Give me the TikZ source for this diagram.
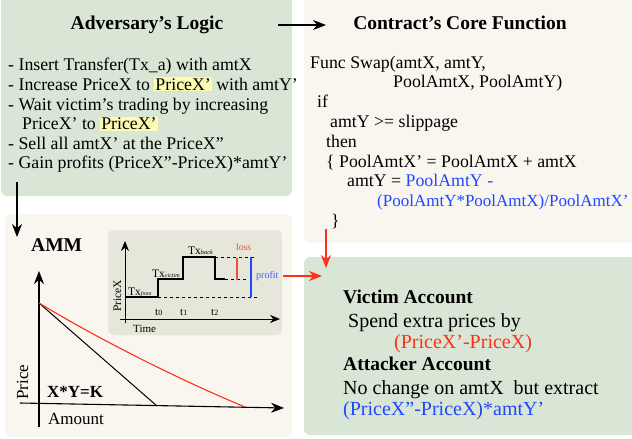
\documentclass[tikz,border=0pt]{standalone}
\usepackage{fontspec}
\setmainfont{Liberation Serif}
\usetikzlibrary{arrows.meta}

\definecolor{sage}{RGB}{217,230,213}
\definecolor{paper}{RGB}{248,246,238}
\definecolor{inset}{RGB}{231,230,218}
\definecolor{hlyellow}{RGB}{253,250,178}
\definecolor{hotred}{RGB}{255,48,24}
\definecolor{lossred}{RGB}{240,78,60}
\definecolor{codeblue}{RGB}{32,72,255}
\definecolor{profitblue}{RGB}{70,95,255}

\newcommand{\hlite}[1]{{\fboxsep=1pt\colorbox{hlyellow}{#1}}}

\begin{document}
\begin{tikzpicture}[x=1pt,y=-1pt,
    panel/.style={rounded corners=6pt},
    body/.style={anchor=base west,inner sep=0pt,font=\fontsize{17.8}{20}\selectfont},
    big/.style={anchor=base west,inner sep=0pt,font=\fontsize{20}{22}\selectfont},
    head/.style={anchor=base,inner sep=0pt,font=\fontsize{19.5}{22}\selectfont\bfseries},
    tiny/.style={anchor=base west,inner sep=0pt,font=\fontsize{11.5}{13}\selectfont},
    blk/.style={-{Stealth[length=13pt,width=10pt]},line width=1.1pt},
    hot/.style={blk,draw=hotred,fill=hotred},
    dash line/.style={dash pattern=on 3pt off 3pt,line width=1pt}]
    \useasboundingbox (0,0) rectangle (632,439);

    % panels
    \begin{scope}
        \clip (0,0) rectangle (632,439);
        \fill[sage,panel] (1,-10) rectangle (292,196);
        \fill[paper,panel] (304,-10) rectangle (645,243);
        \fill[paper,panel] (5,214) rectangle (292,437);
        \fill[inset,panel] (108,230) rectangle (282,335);
        \fill[sage,panel] (304,257) rectangle (645,435);
    \end{scope}

    % adversary's logic
    \node[head] (advtitle) at (147,29) {Adversary's Logic};
    \node[body] (adv1) at (8,70.5) {- Insert Transfer(Tx\_a) with amtX};
    \node[body] (adv2) at (8,90) {- Increase PriceX to \hlite{PriceX'} with amtY'};
    \node[body] (adv3) at (8,110) {- Wait victim's trading by increasing};
    \node[body] (adv4) at (22,129.5) {PriceX' to \hlite{PriceX'}};
    \node[body] (adv5) at (8,149) {- Sell all amtX' at the PriceX''};
    \node[body] (adv6) at (8,168.5) {- Gain profits (PriceX''-PriceX)*amtY'};

    % core function
    \node[head] (coretitle) at (460,29) {Contract's Core Function};
    \node[body] (code1) at (310,68) {Func Swap(amtX, amtY,};
    \node[body] (code2) at (393,87) {PoolAmtX, PoolAmtY)};
    \node[body] (code3) at (317,107) {if};
    \node[body] (code4) at (330,127) {amtY >= slippage};
    \node[body] (code5) at (326,147) {then};
    \node[body] (code6) at (326,167) {\{ PoolAmtX' = PoolAmtX + amtX};
    \node[body] (code7) at (347,186) {amtY = \textcolor{codeblue}{PoolAmtY -}};
    \node[body,text=codeblue,font=\fontsize{17}{20}\selectfont] (code8) at (377,206) {(PoolAmtY*PoolAmtX)/PoolAmtX'};
    \node[body] (code9) at (331,226) {\}};

    % AMM curve
    \node[head,anchor=base west] (amm) at (31,251) {AMM};
    \draw[blk] (39,427) -- (39,271);
    \draw[blk] (20,403) -- (284,408);
    \draw[line width=1pt] (39,303) -- (157,406);
    \draw[hotred,line width=1.1pt] (39,303) .. controls (100,340) and (180,380) .. (245,407);
    \node[anchor=base west,inner sep=0pt,rotate=90,font=\fontsize{17}{20}\selectfont] (price) at (28,400) {Price};
    \node[anchor=base west,inner sep=0pt,font=\fontsize{17}{20}\selectfont\bfseries] (kconst) at (47,397) {X*Y=K};
    \node[anchor=base west,inner sep=0pt,font=\fontsize{17}{20}\selectfont] (amount) at (48,424) {Amount};

    % price over time
    \draw[-{Stealth[length=10pt,width=8pt]},line width=1pt] (125,323) -- (125,241);
    \draw[-{Stealth[length=10pt,width=8pt]},line width=1pt] (120,319) -- (280,319);
    \draw[line width=1.2pt] (125,297) -- (158,297) -- (158,279) -- (183,279) -- (183,257)
        -- (215,257) -- (215,279) -- (225,279);
    \draw[dash line] (158,297) -- (257,297);
    \draw[dash line] (215,257) -- (256,257);
    \draw[dash line] (225,279) -- (247,279);
    \draw[lossred,line width=1.2pt] (237,258) -- (237,280);
    \draw[codeblue,line width=1.2pt] (251,257) -- (251,297);
    \node[tiny,rotate=90] (pricex) at (121,312) {PriceX};
    \node[tiny,font=\fontsize{11}{13}\selectfont] (time) at (133,332) {Time};
    \node[tiny] (front) at (128,295) {Tx{\fontsize{5.5}{6}\selectfont\itshape front}};
    \node[tiny] (victim) at (152,277) {Tx{\fontsize{6}{6}\selectfont\itshape victim}};
    \node[tiny] (back) at (188,254) {Tx{\fontsize{6.3}{6}\selectfont\itshape back}};
    \foreach \x/\n in {155/0,180/1,211/2} {
        \node[tiny,font=\fontsize{11}{13}\selectfont] (t\n) at (\x,315) {t{\fontsize{8}{9}\selectfont\n}};
    }
    \node[tiny,text=lossred,font=\fontsize{9.6}{11}\selectfont] (loss) at (236,250) {loss};
    \node[tiny,text=profitblue,font=\fontsize{10}{11}\selectfont] (profit) at (256,278) {profit};

    % accounts
    \node[big,font=\fontsize{19.5}{22}\selectfont\bfseries] (victimacc) at (343,303) {Victim Account};
    \node[big] (spend) at (348,327) {Spend extra prices by};
    \node[big,text=hotred] (spendamt) at (394,348) {(PriceX'-PriceX)};
    \node[big,font=\fontsize{19.5}{22}\selectfont\bfseries] (attackacc) at (343,370) {Attacker Account};
    \node[big] (nochange) at (343,394) {No change on amtX\ \ but extract};
    \node[big,text=codeblue] (extract) at (343,415) {(PriceX''-PriceX)*amtY'};

    % connectors
    \coordinate (logicout) at (278,25);
    \coordinate (corein) at (326,25);
    \coordinate (logicdown) at (17,182);
    \coordinate (ammin) at (17,237);
    \coordinate (coreout) at (326,229);
    \coordinate (accin) at (326,268);
    \coordinate (plotout) at (283,276);
    \coordinate (accside) at (322,276);
    \draw[blk] (logicout) -- (corein);
    \draw[blk] (logicdown) -- (ammin);
    \draw[hot] (coreout) -- (accin);
    \draw[hot] (plotout) -- (accside);
\end{tikzpicture}
\end{document}
